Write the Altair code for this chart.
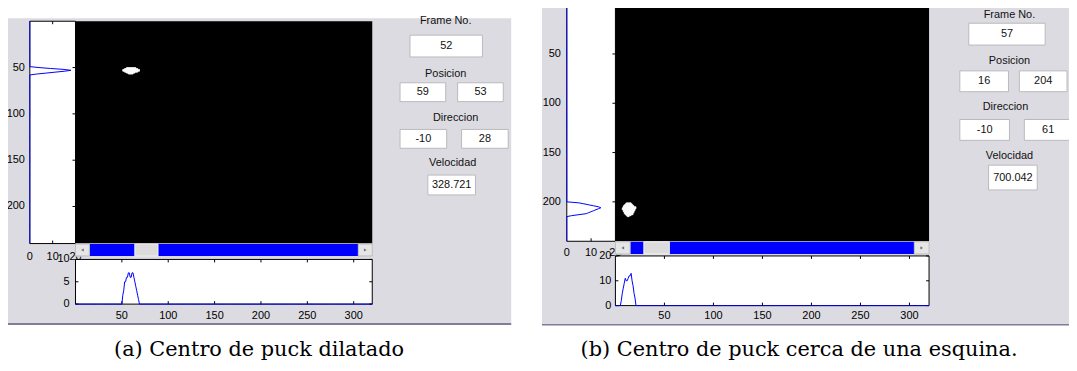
import altair as alt
import pandas as pd

# ---------------- values ----------------
IMAGE_SIZE = [320, 240]                 # frame width, height (pixels)
ROW_TICKS = [50, 100, 150, 200]         # image row ticks
COL_TICKS = [50, 100, 150, 200, 250, 300]
GUI_LABELS = ["Frame No.", "Posicion", "Direccion", "Velocidad"]
CAPTIONS = ["(a) Centro de puck dilatado", "(b) Centro de puck cerca de una esquina."]

# panel (a)
A_FRAME = "52"
A_POS = ["59", "53"]
A_DIR = ["-10", "28"]
A_VEL = "328.721"
A_BLOB_ROW = [50, 51, 52, 53, 54, 55, 56]
A_BLOB_X0 = [55, 53, 51, 51, 53, 55, 57]
A_BLOB_X1 = [64, 66, 68, 68, 66, 63, 61]
A_ROW_IDX = [49, 50, 51, 52, 53, 54, 55, 56, 57, 58]
A_ROW_SUM = [0, 4, 9, 15, 18, 15, 11, 7, 3, 0]
A_COL_IDX = list(range(50, 70))
A_COL_SUM = [0, 2, 3, 5, 5, 6, 6, 7, 7, 6, 6, 7, 7, 6, 5, 4, 3, 2, 1, 0]
A_ROW_AXIS = [0, 10, 20]
A_COL_AXIS = [0, 5, 10]
A_THUMB = [64, 89]

# panel (b)
B_FRAME = "57"
B_POS = ["16", "204"]
B_DIR = ["-10", "61"]
B_VEL = "700.042"
B_BLOB_ROW = list(range(201, 215))
B_BLOB_X0 = [11, 10, 9, 8, 8, 7, 7, 8, 8, 9, 9, 10, 11, 12]
B_BLOB_X1 = [15, 16, 17, 18, 20, 20, 19, 19, 18, 18, 17, 17, 15, 13]
B_ROW_IDX = list(range(200, 216))
B_ROW_SUM = [0, 5, 7, 9, 11, 13, 14, 13, 12, 11, 10, 9, 8, 5, 2, 0]
B_COL_IDX = list(range(5, 22))
B_COL_SUM = [0, 2, 5, 7, 9, 11, 10, 10, 11, 12, 12, 13, 10, 8, 5, 3, 0]
B_ROW_AXIS = [0, 10, 20]
B_COL_AXIS = [0, 10, 20]
B_THUMB = [29, 55]

# ---------------- styles / layout ----------------
GRAY = "#dcdbe1"
SEP = "#7f7d9c"
BLUE = "#0000ff"
SANS = "Liberation Sans"
SERIF = "DejaVu Serif"
ARROW = 15  # width of slider arrow buttons, in image units

LAYOUT_A = dict(
    bg=(0, 507, 9, 316), sep=(0, 507, 316, 318),
    lh_x=(22, 68), img_x=(68, 367), img_y=(12, 236), sb_y=(236, 249),
    bh_y=(297, 252), lh_lab_right=17, lh_lab_y=250, bh_lab_right=62, bh_lab_y=309,
    labels=[(441, 12), (441, 65), (451, 110), (448, 155)],
    boxes=[(405, 478, 26, 48), (395, 441, 74, 93), (453, 499, 74, 93),
           (395, 442, 121, 140), (457, 504, 121, 140), (423, 471, 167, 187)],
)
LAYOUT_B = dict(
    bg=(538, 1069, -8, 317), sep=(538, 1069, 317, 318.5),
    lh_x=(563, 612), img_x=(612, 928), img_y=(-4.7, 233.7), sb_y=(233.7, 247),
    bh_y=(298.5, 248.5), lh_lab_right=557, lh_lab_y=246, bh_lab_right=608, bh_lab_y=309,
    labels=[(1009, 6), (1009, 52), (1005, 98), (1009, 148)],
    boxes=[(968, 1045, 14, 36), (959, 1008, 62, 83), (1019, 1067, 62, 83),
           (959, 1009, 111, 132), (1024, 1072, 111, 132), (988, 1037, 157, 182)],
)

ONE = pd.DataFrame({"k": [0]})


def px_rect(box, **kw):
    x0, x1, y0, y1 = box
    return alt.Chart(ONE).mark_rect(**kw).encode(
        x=alt.value(x0), x2=alt.value(x1), y=alt.value(y0), y2=alt.value(y1))


def profile(idx, vals, n):
    full = [0] * (n + 1)
    for i, v in zip(idx, vals):
        full[i] = v
    return pd.DataFrame({"i": list(range(n + 1)), "v": full})


def lin(domain, rng):
    return alt.Scale(domain=list(domain), range=list(rng), nice=False, zero=False)


def panel(cfg, d):
    W, H = IMAGE_SIZE
    sx_img = lin([0, W], cfg["img_x"])
    sy_img = lin([0, H], cfg["img_y"])
    sx_row = lin([0, d["row_axis"][-1]], cfg["lh_x"])
    sy_col = lin([0, d["col_axis"][-1]], cfg["bh_y"])
    lx0, lx1 = cfg["lh_x"]
    ix0, ix1 = cfg["img_x"]
    iy0, iy1 = cfg["img_y"]
    sb0, sb1 = cfg["sb_y"]
    bb, bt = cfg["bh_y"]
    L = []
    L.append(px_rect(cfg["bg"], color=GRAY))
    L.append(px_rect(cfg["sep"], color=SEP))

    # ---- left (row) histogram ----
    L.append(px_rect((lx0, lx1, iy0, iy1), fill="white", stroke="black", strokeWidth=1))
    rt = pd.DataFrame({"t": ROW_TICKS})
    L.append(alt.Chart(rt).mark_rule(color="black").encode(
        y=alt.Y("t:Q", scale=sy_img, axis=None), x=alt.value(lx1 - 3), x2=alt.value(lx1)))
    ct = pd.DataFrame({"t": d["row_axis"][1:-1]})
    L.append(alt.Chart(ct).mark_rule(color="black").encode(
        x=alt.X("t:Q", scale=sx_row, axis=None), y=alt.value(iy1 - 3), y2=alt.value(iy1)))
    L.append(alt.Chart(ct).mark_rule(color="black").encode(
        x=alt.X("t:Q", scale=sx_row, axis=None), y=alt.value(iy0), y2=alt.value(iy0 + 3)))
    L.append(alt.Chart(rt).mark_text(align="right", baseline="middle", font=SANS, fontSize=11).encode(
        y=alt.Y("t:Q", scale=sy_img, axis=None), x=alt.value(cfg["lh_lab_right"]), text="t:Q"))
    L.append(alt.Chart(pd.DataFrame({"t": d["row_axis"]})).mark_text(
        align="center", baseline="middle", font=SANS, fontSize=11).encode(
        x=alt.X("t:Q", scale=sx_row, axis=None), y=alt.value(cfg["lh_lab_y"]), text="t:Q"))
    L.append(alt.Chart(profile(d["row_idx"], d["row_sum"], H)).mark_line(
        color=BLUE, strokeWidth=1).encode(
        x=alt.X("v:Q", scale=sx_row, axis=None), y=alt.Y("i:Q", scale=sy_img, axis=None),
        order="i:Q"))

    # ---- image ----
    img = pd.DataFrame({"x0": [0], "x1": [W], "y0": [0], "y1": [H]})
    L.append(alt.Chart(img).mark_rect(color="black").encode(
        x=alt.X("x0:Q", scale=sx_img, axis=None), x2="x1:Q",
        y=alt.Y("y0:Q", scale=sy_img, axis=None), y2="y1:Q"))
    blob = pd.DataFrame({"r": d["blob_row"], "x0": d["blob_x0"]})
    blob["x1"] = [v + 1 for v in d["blob_x1"]]
    blob["r1"] = blob["r"] + 1
    L.append(alt.Chart(blob).mark_rect(fill="white", stroke="white", strokeWidth=0.8).encode(
        x=alt.X("x0:Q", scale=sx_img, axis=None), x2="x1:Q",
        y=alt.Y("r:Q", scale=sy_img, axis=None), y2="r1:Q"))

    # ---- slider ----
    sb = pd.DataFrame({"x0": [0], "x1": [W]})
    L.append(alt.Chart(sb).mark_rect(color="#d8d8d8").encode(
        x=alt.X("x0:Q", scale=sx_img, axis=None), x2="x1:Q", y=alt.value(sb0), y2=alt.value(sb1)))
    tr = pd.DataFrame({"x0": [ARROW], "x1": [W - ARROW]})
    L.append(alt.Chart(tr).mark_rect(color=BLUE).encode(
        x=alt.X("x0:Q", scale=sx_img, axis=None), x2="x1:Q",
        y=alt.value(sb0 + 0.5), y2=alt.value(sb1 - 0.5)))
    th = pd.DataFrame({"x0": [d["thumb"][0]], "x1": [d["thumb"][1]]})
    L.append(alt.Chart(th).mark_rect(fill="#dcdcdc", stroke="#f4f4f4", strokeWidth=1).encode(
        x=alt.X("x0:Q", scale=sx_img, axis=None), x2="x1:Q",
        y=alt.value(sb0 + 0.5), y2=alt.value(sb1 - 0.5)))
    ar = pd.DataFrame({"x0": [0, W - ARROW], "x1": [ARROW, W]})
    L.append(alt.Chart(ar).mark_rect(fill="#e6e6e6", stroke="#bdbdbd", strokeWidth=1).encode(
        x=alt.X("x0:Q", scale=sx_img, axis=None), x2="x1:Q",
        y=alt.value(sb0 + 0.5), y2=alt.value(sb1 - 0.5)))
    tri = pd.DataFrame({"x": [ARROW / 2, W - ARROW / 2], "s": ["triangle-left", "triangle-right"]})
    L.append(alt.Chart(tri).mark_point(filled=True, size=10, color="#707070", opacity=1).encode(
        x=alt.X("x:Q", scale=sx_img, axis=None), y=alt.value((sb0 + sb1) / 2),
        shape=alt.Shape("s:N", scale=None, legend=None)))

    # ---- bottom (column) histogram ----
    L.append(px_rect((ix0, ix1, bt, bb), fill="white", stroke="black", strokeWidth=1))
    xt = pd.DataFrame({"t": COL_TICKS})
    L.append(alt.Chart(xt).mark_rule(color="black").encode(
        x=alt.X("t:Q", scale=sx_img, axis=None), y=alt.value(bt), y2=alt.value(bt + 3)))
    L.append(alt.Chart(xt).mark_rule(color="black").encode(
        x=alt.X("t:Q", scale=sx_img, axis=None), y=alt.value(bb - 3), y2=alt.value(bb)))
    yt = pd.DataFrame({"t": d["col_axis"]})
    L.append(alt.Chart(yt).mark_rule(color="black").encode(
        y=alt.Y("t:Q", scale=sy_col, axis=None), x=alt.value(ix0), x2=alt.value(ix0 + 3)))
    L.append(alt.Chart(yt).mark_rule(color="black").encode(
        y=alt.Y("t:Q", scale=sy_col, axis=None), x=alt.value(ix1 - 3), x2=alt.value(ix1)))
    L.append(alt.Chart(profile(d["col_idx"], d["col_sum"], W)).mark_line(
        color=BLUE, strokeWidth=1).encode(
        x=alt.X("i:Q", scale=sx_img, axis=None), y=alt.Y("v:Q", scale=sy_col, axis=None)))
    L.append(alt.Chart(xt).mark_text(align="center", baseline="middle", font=SANS, fontSize=11).encode(
        x=alt.X("t:Q", scale=sx_img, axis=None), y=alt.value(cfg["bh_lab_y"]), text="t:Q"))
    L.append(alt.Chart(yt).mark_text(align="right", baseline="middle", font=SANS, fontSize=11).encode(
        y=alt.Y("t:Q", scale=sy_col, axis=None), x=alt.value(cfg["bh_lab_right"]), text="t:Q"))

    # ---- GUI controls ----
    lab = pd.DataFrame({"txt": GUI_LABELS,
                        "px": [p[0] for p in cfg["labels"]], "py": [p[1] for p in cfg["labels"]]})
    L.append(alt.Chart(lab).mark_text(align="center", baseline="middle", font=SANS,
                                      fontSize=11, color="#111111").encode(
        x=alt.X("px:Q", scale=None), y=alt.Y("py:Q", scale=None), text="txt:N"))
    vals = [d["frame"]] + d["pos"] + d["dir"] + [d["vel"]]
    bx = pd.DataFrame(cfg["boxes"], columns=["x0", "x1", "y0", "y1"])
    bx["txt"] = vals
    bx["cx"] = (bx["x0"] + bx["x1"]) / 2
    bx["cy"] = (bx["y0"] + bx["y1"]) / 2
    L.append(alt.Chart(bx).mark_rect(fill="white", stroke="#b9b9bd", strokeWidth=1).encode(
        x=alt.X("x0:Q", scale=None), x2="x1:Q", y=alt.Y("y0:Q", scale=None), y2="y1:Q"))
    L.append(alt.Chart(bx).mark_text(align="center", baseline="middle", font=SANS,
                                     fontSize=11, color="#111111").encode(
        x=alt.X("cx:Q", scale=None), y=alt.Y("cy:Q", scale=None), text="txt:N"))
    return L


DATA_A = dict(frame=A_FRAME, pos=A_POS, dir=A_DIR, vel=A_VEL,
              blob_row=A_BLOB_ROW, blob_x0=A_BLOB_X0, blob_x1=A_BLOB_X1,
              row_idx=A_ROW_IDX, row_sum=A_ROW_SUM, col_idx=A_COL_IDX, col_sum=A_COL_SUM,
              row_axis=A_ROW_AXIS, col_axis=A_COL_AXIS, thumb=A_THUMB)
DATA_B = dict(frame=B_FRAME, pos=B_POS, dir=B_DIR, vel=B_VEL,
              blob_row=B_BLOB_ROW, blob_x0=B_BLOB_X0, blob_x1=B_BLOB_X1,
              row_idx=B_ROW_IDX, row_sum=B_ROW_SUM, col_idx=B_COL_IDX, col_sum=B_COL_SUM,
              row_axis=B_ROW_AXIS, col_axis=B_COL_AXIS, thumb=B_THUMB)

layers = panel(LAYOUT_A, DATA_A) + panel(LAYOUT_B, DATA_B)

cap = pd.DataFrame({"txt": CAPTIONS, "px": [253, 797], "py": [343, 343]})
layers.append(alt.Chart(cap).mark_text(align="center", baseline="middle", font=SERIF,
                                       fontSize=21, color="black").encode(
    x=alt.X("px:Q", scale=None), y=alt.Y("py:Q", scale=None), text="txt:N"))

chart = alt.layer(*layers).resolve_scale(x="independent", y="independent").properties(
    width=1069, height=355, padding=0, autosize=alt.AutoSizeParams(type="none"),
    background="white",
).configure_view(stroke=None)

chart.save("out.html", embed_options={"renderer": "svg", "actions": False})
